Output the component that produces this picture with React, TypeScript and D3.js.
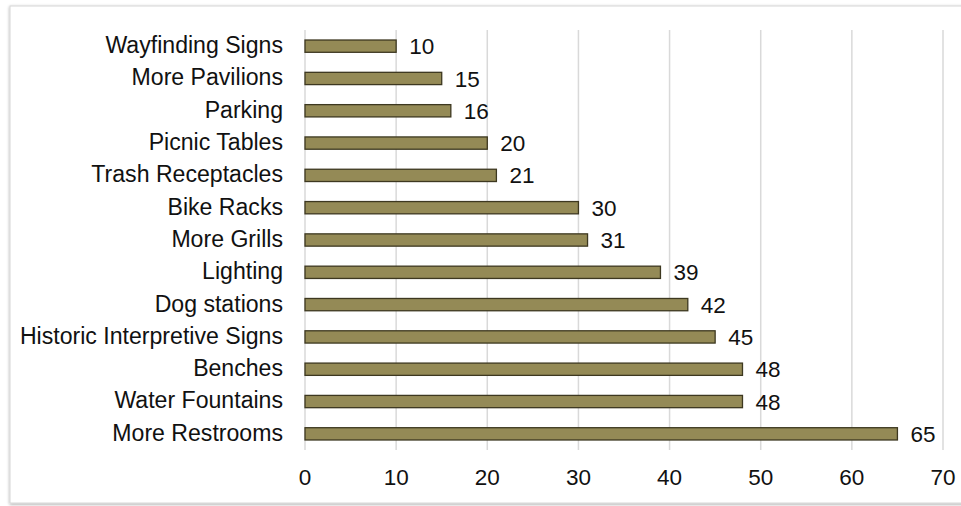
import React from "react";
import * as d3 from "d3";

const categories = [
  "Wayfinding Signs",
  "More Pavilions",
  "Parking",
  "Picnic Tables",
  "Trash Receptacles",
  "Bike Racks",
  "More Grills",
  "Lighting",
  "Dog stations ",
  "Historic Interpretive Signs",
  "Benches",
  "Water Fountains",
  "More Restrooms",
];
const values = [10, 15, 16, 20, 21, 30, 31, 39, 42, 45, 48, 48, 65];
const xTicks = [0, 10, 20, 30, 40, 50, 60, 70];

const W = 961;
const H = 506;
const margin = { left: 305, right: 18, top: 30, bottom: 56 };

export default function App() {
  const x = d3.scaleLinear().domain([0, 70]).range([margin.left, W - margin.right]);
  const y = d3
    .scaleBand<string>()
    .domain(categories)
    .range([margin.top, H - margin.bottom])
    .paddingInner(0.62)
    .paddingOuter(0.31);
  const font = "'Liberation Sans', Arial, Helvetica, sans-serif";
  const bh = y.bandwidth();
  return (
    <svg
      width={W}
      height={H}
      style={{ position: "absolute", left: 0, top: 0, background: "#fff" }}
      fontFamily={font}
    >
      <defs>
        <filter id="sh" x="-5%" y="-5%" width="110%" height="110%">
          <feDropShadow dx="0" dy="1" stdDeviation="1.5" floodColor="#000" floodOpacity="0.35" />
        </filter>
      </defs>
      <rect x={10} y={6} width={970} height={497} fill="#fff" stroke="#d6d6d6" strokeWidth={1} filter="url(#sh)" />
      {xTicks.map((t) => (
        <line key={t} x1={x(t)} x2={x(t)} y1={margin.top} y2={H - margin.bottom} stroke="#d9d9d9" strokeWidth={1.5} />
      ))}
      {categories.map((c, i) => {
        const yc = (y(c) as number) + bh / 2;
        return (
          <g key={c}>
            <rect
              x={x(0)}
              y={y(c)}
              width={x(values[i]) - x(0)}
              height={bh}
              fill="#948a56"
              stroke="#3d3820"
              strokeWidth={1.3}
            />
            <text x={x(values[i]) + 13} y={yc} dy="0.36em" fontSize={22.5} fill="#111">
              {values[i]}
            </text>
            <text x={283} y={yc} dy="0.3em" fontSize={23.1} textAnchor="end" fill="#111">
              {c}
            </text>
          </g>
        );
      })}
      {xTicks.map((t) => (
        <text key={t} x={x(t)} y={477} dy="0.36em" fontSize={22.5} textAnchor="middle" fill="#111">
          {t}
        </text>
      ))}
    </svg>
  );
}
